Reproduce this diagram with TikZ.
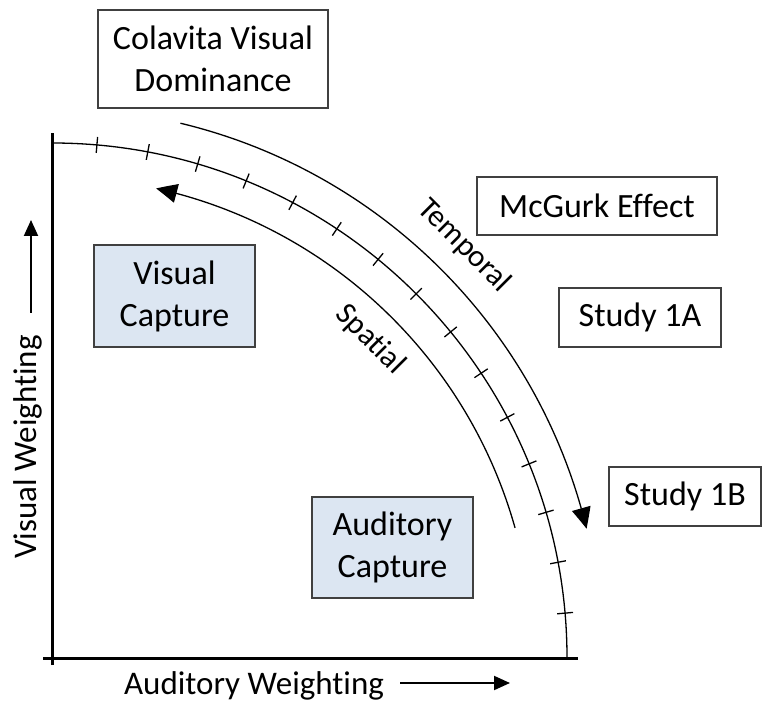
\documentclass[tikz,border=0pt]{standalone}
\usepackage{fontspec}
\setmainfont{Carlito}[Ligatures=NoCommon]
\usetikzlibrary{arrows.meta,bending}
\definecolor{azulcaja}{HTML}{DCE6F2}
\tikzset{
	caja/.style={draw=black!75, line width=1.4pt, inner sep=0pt, align=center, font=\fontsize{34}{42}\selectfont},
	captura/.style={caja, fill=azulcaja},
	arco/.style={line width=1.3pt},
	flecha/.style={arco, -{Triangle[length=21pt,width=19pt,bend]}},
	eje/.style={line width=3pt},
	etiqueta/.style={font=\fontsize{33}{40}\selectfont},
}
\begin{document}
\begin{tikzpicture}[x=1pt, y=1pt]
	\useasboundingbox (0,0) rectangle (762,702);
	% Cajas
		\node[caja, minimum width=230, minimum height=98] (colavita) at (213,643) {Colavita Visual\\Dominance};
		\node[caja, minimum width=240, minimum height=58] (mcgurk) at (597,496) {McGurk Effect};
		\node[caja, minimum width=162, minimum height=59] (study1a) at (640,384.5) {Study 1A};
		\node[caja, minimum width=152, minimum height=59] (study1b) at (685,205.5) {Study 1B};
		\node[captura, minimum width=161, minimum height=102] (visual) at (174.5,406) {Visual\\Capture};
		\node[captura, minimum width=161, minimum height=101] (auditory) at (392.5,154.5) {Auditory\\Capture};
	% Ejes
		\draw[eje] (52,37) -- (52,569);
		\draw[eje] (43,44) -- (578,44);
		\node[etiqueta, anchor=base] (xlabel) at (254,8) {Auditory Weighting};
		\node[etiqueta, anchor=base, rotate=90] (ylabel) at (36,255) {Visual Weighting};
		\draw[line width=2pt, -{Triangle[length=16pt,width=14pt]}] (400,19) -- (510,19);
		\draw[line width=2pt, -{Triangle[length=16pt,width=14pt]}] (31,389) -- (31,482);
	% Curvas
		\begin{scope}[shift={(52,44)}]
			% Frontera con marcas
				\draw[arco] (0,515) arc[start angle=90, end angle=0, radius=515];
				\foreach \i [evaluate=\i as \ang using 5+5.714*\i] in {0,...,14}
					\draw[arco] (\ang:507) -- (\ang:523);
			% Temporal
				\draw[flecha] (76.5:550) arc[start angle=76.5, end angle=13.6, radius=550];
				\node[font=\fontsize{31}{36}\selectfont, rotate=-45] (temporal) at (45:583) {Temporal};
			% Spatial
				\draw[flecha] (15.7:481) arc[start angle=15.7, end angle=77.5, radius=481];
				\node[font=\fontsize{31}{36}\selectfont, rotate=-45] (spatial) at (45:450) {Spatial};
		\end{scope}
\end{tikzpicture}
\end{document}
